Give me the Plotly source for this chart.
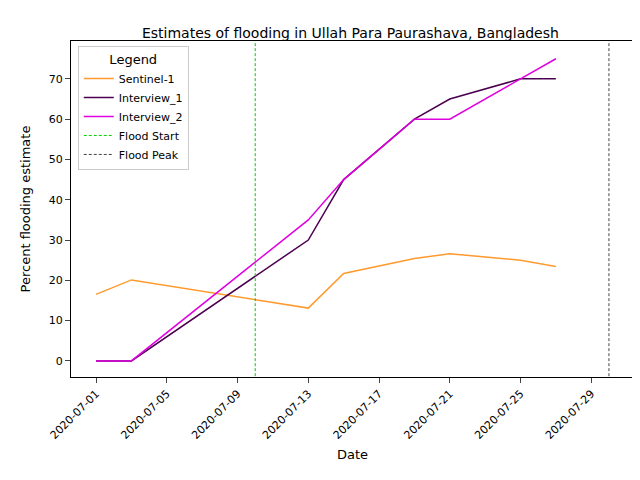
import plotly.graph_objects as go

dates = ["2020-07-01", "2020-07-03", "2020-07-13", "2020-07-15",
         "2020-07-19", "2020-07-21", "2020-07-25", "2020-07-27"]
sentinel_1 = [16.5, 20.1, 13.1, 21.7, 25.4, 26.6, 25.0, 23.4]
interview_1 = [0, 0, 30, 45, 60, 65, 70, 70]
interview_2 = [0, 0, 35, 45, 60, 60, 70, 75]
flood_start = "2020-07-10"
flood_peak = "2020-07-30"
tick_dates = ["2020-07-01", "2020-07-05", "2020-07-09", "2020-07-13",
              "2020-07-17", "2020-07-21", "2020-07-25", "2020-07-29"]

fig = go.Figure()
fig.add_trace(go.Scatter(x=dates, y=sentinel_1, mode="lines", name="Sentinel-1",
                         line=dict(color="#ff9a2e", width=1.5)))
fig.add_trace(go.Scatter(x=dates, y=interview_1, mode="lines", name="Interview_1",
                         line=dict(color="#4b0050", width=1.5)))
fig.add_trace(go.Scatter(x=dates, y=interview_2, mode="lines", name="Interview_2",
                         line=dict(color="#e000e0", width=1.5)))
# vertical markers as traces so they show in the legend
fig.add_trace(go.Scatter(x=[flood_start, flood_start], y=[-10, 100], mode="lines",
                         name="Flood Start", line=dict(color="#00cc00", width=1, dash="3px,2px")))
fig.add_trace(go.Scatter(x=[flood_peak, flood_peak], y=[-10, 100], mode="lines",
                         name="Flood Peak", line=dict(color="#444444", width=1, dash="3px,2px")))

fig.update_layout(
    width=640, height=480,
    margin=dict(l=63, r=14, t=33, b=111),
    paper_bgcolor="white", plot_bgcolor="white",
    font=dict(family="DejaVu Sans", size=11, color="black"),
    title=dict(text="Estimates of flooding in Ullah Para Paurashava, Bangladesh",
               x=0.535, xanchor="center", y=0.958, font=dict(size=14)),
    legend=dict(title=dict(text="Legend", side="top center"), x=0.012, y=0.985,
                xanchor="left", yanchor="top", bordercolor="#cccccc", borderwidth=1,
                bgcolor="rgba(255,255,255,0.8)", font=dict(size=11)),
    showlegend=True,
)
fig.update_xaxes(title_text="Date", type="date", automargin=False,
                 range=["2020-06-29 14:00", "2020-07-31 10:00"],
                 tickvals=tick_dates, ticktext=tick_dates, tickangle=-45,
                 showline=True, linecolor="black", mirror=True, ticks="outside",
                 showgrid=False, zeroline=False, title_standoff=8)
fig.update_yaxes(title_text="Percent flooding estimate", range=[-4, 79.4], automargin=False,
                 tickvals=[0, 10, 20, 30, 40, 50, 60, 70],
                 showline=True, linecolor="black", mirror=True, ticks="outside",
                 showgrid=False, zeroline=False)

fig.write_html("out.html")
